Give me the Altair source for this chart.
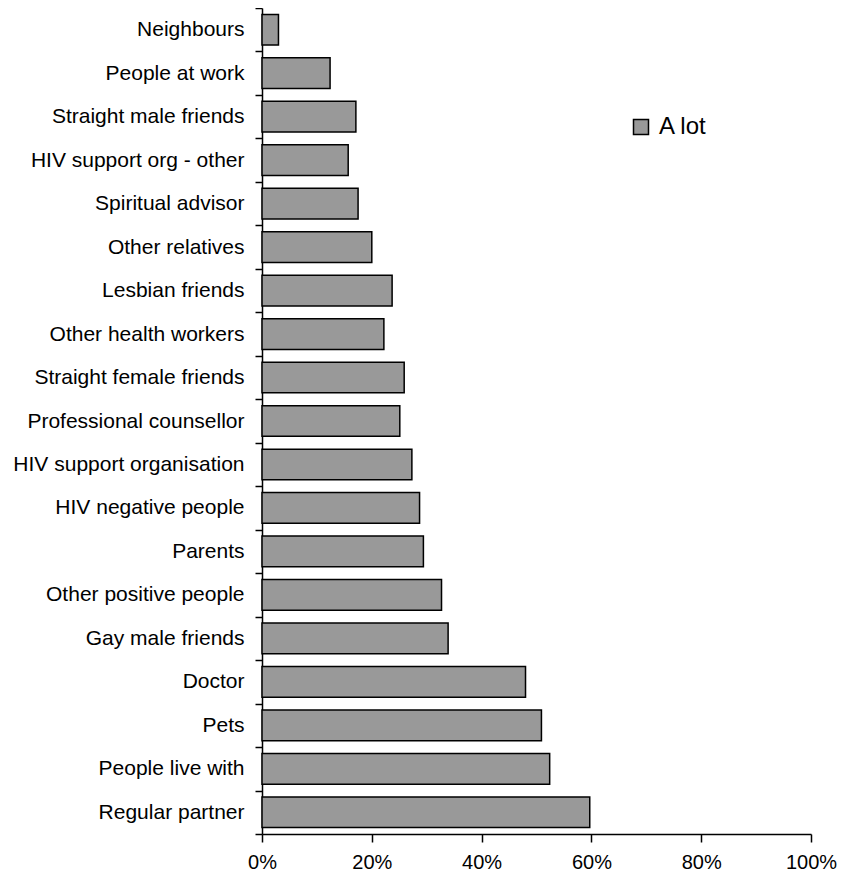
import altair as alt
import pandas as pd

categories = [
    "Neighbours", "People at work", "Straight male friends", "HIV support org - other",
    "Spiritual advisor", "Other relatives", "Lesbian friends", "Other health workers",
    "Straight female friends", "Professional counsellor", "HIV support organisation",
    "HIV negative people", "Parents", "Other positive people", "Gay male friends",
    "Doctor", "Pets", "People live with", "Regular partner",
]
values = [3.0, 12.4, 17.1, 15.7, 17.5, 20.0, 23.7, 22.2, 25.9, 25.1, 27.3, 28.7,
          29.4, 32.7, 33.9, 48.0, 50.9, 52.4, 59.7]
series_name = "A lot"
x_ticks = [0, 20, 40, 60, 80, 100]

df = pd.DataFrame({"cat": categories, "val": [v / 100 for v in values], "series": series_name})

FONT = "Liberation Sans"

chart = alt.Chart(df).mark_bar(
    height=alt.RelativeBandSize(0.706), stroke="black", strokeWidth=1.5
).encode(
    y=alt.Y("cat:N", sort=categories, title=None,
            scale=alt.Scale(paddingInner=0, paddingOuter=0),
            axis=alt.Axis(tickBand="extent", labelFont=FONT, labelFontSize=21,
                          labelColor="black", labelPadding=11, tickSize=7,
                          tickColor="black", domainColor="black", tickWidth=1.5,
                          domainWidth=1.5, labelLimit=400)),
    x=alt.X("val:Q", title=None,
            scale=alt.Scale(domain=[0, 1], nice=False),
            axis=alt.Axis(format="%", values=[t / 100 for t in x_ticks], grid=False,
                          labelFlush=False, labelFont=FONT, labelFontSize=20,
                          labelColor="black", labelPadding=10, tickSize=8,
                          tickColor="black", domainColor="black", tickWidth=1.5,
                          domainWidth=1.5)),
    fill=alt.Fill("series:N", scale=alt.Scale(range=["#999999"]),
                  legend=alt.Legend(title=None, orient="none", legendX=367, legendY=107,
                                    symbolType="square", symbolSize=225,
                                    symbolStrokeColor="black", symbolStrokeWidth=1.5,
                                    labelFont=FONT, labelFontSize=24, labelColor="black",
                                    labelOffset=6, padding=0)),
).properties(
    width=549, height=826,
    autosize=alt.AutoSizeParams(type="none"),
    padding={"left": 254, "top": 0, "right": 26, "bottom": 45},
).configure_view(stroke=None)

chart.save("out.html", embed_options={"renderer": "svg", "actions": False})
